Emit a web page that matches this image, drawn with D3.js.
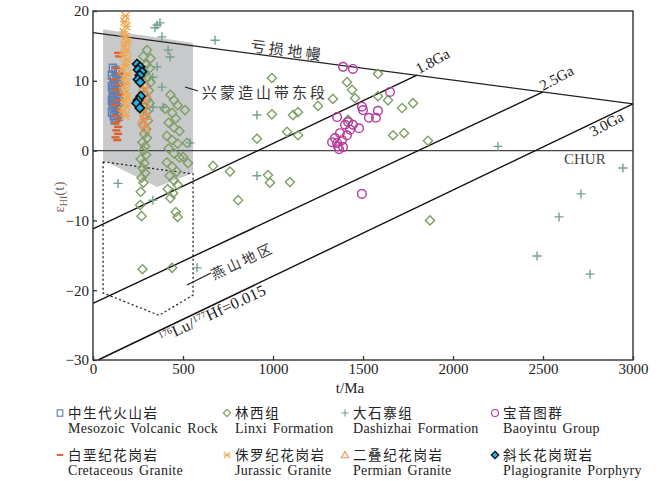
<!DOCTYPE html>
<html>
<head>
<meta charset="utf-8">
<script src="https://cdn.jsdelivr.net/npm/d3@7"></script>
<style>
  html, body { margin: 0; padding: 0; background: #fff; }
  svg { display: block; }
  .serif { font-family: "Liberation Serif", "Times New Roman", serif; }
  .cjk { font-family: "Noto Sans CJK SC", sans-serif; }
</style>
</head>
<body>
<svg id="chart" width="663" height="481"></svg>
<script>
// ---- data: [t (Ma), εHf(t)] ----
const mesozoicVolcanic = [
  [110,11.8],[125,11.5],[140,11.2],[105,10.8],[130,10.5],[115,10.2],[145,9.8],[120,9.5],
  [105,9.2],[135,9.0],[125,8.6],[110,8.3],[140,8.0],[118,7.8],[130,7.5],[105,7.2],
  [145,7.0],[120,6.7],[110,6.4],[135,6.1],[125,5.8],[105,5.5],[140,5.2],[115,5.0],
  [130,4.7],[120,4.4],[110,8.8],[135,10.0],[112,7.0],[128,6.3]
];
const linxi = [
  [300,14.4],[280,13.5],[320,13.2],[295,12.3],[315,11.8],[285,11.0],[305,10.5],[320,9.8],
  [290,9.3],[310,8.6],[280,8.0],[300,7.3],[315,6.8],[285,6.2],[300,5.6],[290,4.9],
  [305,4.3],[280,3.7],[295,3.1],[285,2.4],[300,1.8],[275,1.2],[290,0.6],[280,0.0],
  [295,-0.6],[265,-1.2],[285,-1.8],[275,-2.5],[290,-3.2],[270,-3.9],[280,-4.6],[265,-5.9],
  [262,-7.8],[270,-9.4],[275,-17.0],
  [430,8.0],[450,7.2],[470,6.5],[400,6.0],[440,5.4],[460,4.6],[420,4.0],[450,3.3],
  [480,2.8],[410,2.1],[440,1.5],[470,1.0],[420,0.3],[450,-0.4],[480,-1.0],[410,-1.7],
  [440,-2.3],[465,-3.0],[425,-3.6],[450,-4.3],[470,-4.9],[415,-5.5],[445,-6.1],[430,-6.8],
  [460,-8.8],[470,-9.5],[440,-16.8],
  [511,5.8],[522,1.1],[500,-0.9],[528,-1.8],[667,-2.2],[761,-3.0],[806,-7.1],[911,1.7],
  [972,-3.5],[983,-4.6],[994,10.4],[994,5.2],[1078,2.7],[1094,-4.5],[1111,5.1],[1139,5.5],
  [1139,2.2],[1250,6.4],[1333,7.4],[1411,9.8],[1439,8.7],[1456,7.5],[1417,4.4],[1583,11.0],
  [1583,7.8],[1639,7.2],[1717,6.1],[1778,6.8],[1667,2.2],[1728,2.5],[1861,1.4],[1872,-10.0]
];
const dashizhai = [
  [356,18.0],[372,18.3],[344,17.6],[383,16.3],[417,14.4],[428,13.4],[356,12.0],[333,10.5],
  [383,9.1],[333,6.2],[389,6.2],[678,15.8],[139,-4.7],[333,-7.1],[539,1.1],[911,5.1],
  [911,-3.6],[578,-16.8],[2250,0.6],[2944,-2.5],[2711,-6.2],[2589,-9.5],[2467,-15.1],[2761,-17.7]
];
const baoyintu = [
  [1389,12.0],[1444,11.7],[1650,8.4],[1494,6.3],[1500,5.8],[1583,5.7],[1533,4.7],[1572,4.7],
  [1356,4.8],[1417,4.1],[1444,3.7],[1478,3.2],[1428,3.0],[1400,3.7],[1372,2.5],[1344,1.8],
  [1328,1.2],[1356,1.1],[1383,1.5],[1389,0.5],[1361,0.6],[1494,-6.2],[1411,2.2],[1367,0.2]
];
const cretaceousGranite = [
  [140,14.0],[145,13.5],[130,11.8],[150,11.0],[120,10.2],[145,9.5],[125,8.7],[150,8.0],
  [135,7.2],[120,6.5],[150,5.8],[130,5.0],[145,4.4],[125,3.9],[140,3.4],[130,2.9],
  [140,2.4],[125,1.9],[135,1.5]
];
const jurassicGranite = [
  [180,19.3],[175,18.5],[185,17.8],[170,17.0],[180,16.3],[190,15.6],[175,15.0],[185,14.3],
  [170,13.6],[190,13.0],[180,12.3],[165,11.6],[190,11.0],[175,10.3],[185,9.6],[170,9.0],
  [180,8.3],[190,7.6],[175,7.0],[185,6.3],[165,5.7],[180,5.0]
];
const permianGranite = [
  [285,9.5],[275,8.8],[295,8.2],[280,7.5],[290,6.8],[270,6.2],[285,5.6],[295,5.0],
  [275,4.4],[285,3.8],[290,3.2]
];
const plagiograniteP = [
  [245,12.4],[262,12.0],[250,11.6],[272,11.3],[260,10.8],[250,10.2],[262,9.8],
  [265,7.8],[250,7.2],[242,6.8],[260,6.1]
];

// reference curves
const depletedMantle = [[0,16.9],[3000,6.7]];
const chur = [[0,0],[3000,0]];
const crustLines = [
  { label: "1.8Ga", pts: [[0,-11.2],[1800,10.8]] },
  { label: "2.5Ga", pts: [[0,-21.9],[2500,8.4]] },
  { label: "3.0Ga", pts: [[28,-30],[3000,6.7]] }
];
// field outlines
const xingmengField = [[56,17.4],[556,15.4],[556,-3.2],[356,-5.2],[56,-1.35]];
const yanshanField = [[56,-1.6],[556,-3.35],[556,-20.7],[367,-23.6],[56,-20.4]];

const xTicks = [0,500,1000,1500,2000,2500,3000];
const yTicks = [-30,-20,-10,0,10,20];

// ---- scales ----
const x = d3.scaleLinear().domain([0,3000]).range([93,633]);
const y = d3.scaleLinear().domain([-30,20]).range([360,11]);

const svg = d3.select("#chart");
const line = d3.line().x(d => x(d[0])).y(d => y(d[1]));

// grey field: eastern Xing'an–Mongolia orogenic belt
svg.append("path").attr("d", line(xingmengField) + "Z")
  .attr("fill", "#c8c9cb").attr("stroke", "none");

// dotted field: Yanshan region
svg.append("path").attr("d", line(yanshanField) + "Z")
  .attr("fill", "none").attr("stroke", "#222").attr("stroke-width", 1.3)
  .attr("stroke-dasharray", "2,2.5");

// reference lines
svg.append("path").attr("d", line(depletedMantle)).attr("stroke", "#222").attr("stroke-width", 1.4).attr("fill", "none");
svg.append("path").attr("d", line(chur)).attr("stroke", "#444").attr("stroke-width", 1.4).attr("fill", "none");
crustLines.forEach(c => {
  svg.append("path").attr("d", line(c.pts)).attr("stroke", "#111").attr("stroke-width", 1.4).attr("fill", "none");
});

// frame
svg.append("rect").attr("x", x(0)).attr("y", y(20)).attr("width", x(3000)-x(0)).attr("height", y(-30)-y(20))
  .attr("fill", "none").attr("stroke", "#333").attr("stroke-width", 1.4);

// axes
const xAxis = svg.append("g").attr("transform", `translate(0,${y(-30)})`)
  .call(d3.axisBottom(x).tickValues(xTicks).tickSize(-4).tickPadding(3).tickFormat(d3.format("d")));
const yAxis = svg.append("g").attr("transform", `translate(${x(0)},0)`)
  .call(d3.axisLeft(y).tickValues(yTicks).tickSize(-4).tickPadding(4).tickFormat(d3.format("d")));
[xAxis, yAxis].forEach(g => {
  g.select(".domain").remove();
  g.selectAll(".tick line").attr("stroke", "#333").attr("stroke-width", 1.3);
  g.selectAll(".tick text").attr("class", "serif").attr("font-size", 15).attr("fill", "#222");
});

// axis titles
svg.append("text").attr("class", "serif").attr("x", 350).attr("y", 393)
  .attr("text-anchor", "middle").attr("font-size", 15).attr("fill", "#222").text("t/Ma");
const yt = svg.append("text").attr("class", "serif").attr("transform", "translate(64,197) rotate(-90)")
  .attr("text-anchor", "middle").attr("font-size", 15).attr("fill", "#7a625c");
yt.append("tspan").text("ε");
yt.append("tspan").attr("font-size", 10).attr("dy", 3).text("Hf");
yt.append("tspan").attr("dy", -3).text("(t)");

// ---- symbols ----
const sym = {
  square: (g, c) => g.append("rect").attr("x", -3.5).attr("y", -4).attr("width", 7).attr("height", 8)
    .attr("fill", "none").attr("stroke", c.color).attr("stroke-width", 1.4),
  diamond: (g, c) => g.append("path").attr("d", "M0,-4.6L4.6,0L0,4.6L-4.6,0Z")
    .attr("fill", c.fill || "none").attr("stroke", c.color).attr("stroke-width", c.sw || 1.4),
  plus: (g, c) => g.append("path").attr("d", "M-4.5,0H4.5M0,-4.5V4.5")
    .attr("stroke", c.color).attr("stroke-width", 1.4),
  circle: (g, c) => g.append("circle").attr("r", 4.3)
    .attr("fill", "none").attr("stroke", c.color).attr("stroke-width", 1.4),
  dash: (g, c) => g.append("path").attr("d", "M-4,0H4")
    .attr("stroke", c.color).attr("stroke-width", 2.4),
  asterisk: (g, c) => g.append("path").attr("d", "M-4,-4L4,4M-4,4L4,-4M-4.5,0H4.5")
    .attr("stroke", c.color).attr("stroke-width", 1.4),
  triangle: (g, c) => g.append("path").attr("d", "M0,-4.5L4.5,3.5H-4.5Z")
    .attr("fill", "none").attr("stroke", c.color).attr("stroke-width", 1.4)
};

const series = [
  { data: linxi, shape: "diamond", color: "#7f9f62" },
  { data: dashizhai, shape: "plus", color: "#72a08a" },
  { data: baoyintu, shape: "circle", color: "#b4389e" },
  { data: mesozoicVolcanic, shape: "square", color: "#5d7fb6" },
  { data: cretaceousGranite, shape: "dash", color: "#e0602c" },
  { data: jurassicGranite, shape: "asterisk", color: "#f1a84c" },
  { data: permianGranite, shape: "triangle", color: "#ec935a" },
  { data: plagiograniteP, shape: "diamond", color: "#111", fill: "#1cb3ea", sw: 1.6 }
];
series.forEach(s => {
  svg.append("g").selectAll("g").data(s.data).join("g")
    .attr("transform", d => `translate(${x(d[0])},${y(d[1])})`)
    .each(function() { sym[s.shape](d3.select(this), s); });
});

// ---- in-plot labels ----
const dmAngle = Math.atan2(y(depletedMantle[1][1]) - y(depletedMantle[0][1]), x(3000) - x(0)) * 180 / Math.PI;
svg.append("text").attr("class", "cjk").attr("font-size", 15).attr("letter-spacing", 3.5).attr("fill", "#333")
  .attr("transform", `translate(250,51) rotate(${dmAngle})`).text("亏损地幔");

svg.append("line").attr("x1", 185).attr("y1", 87).attr("x2", 198).attr("y2", 91).attr("stroke", "#222").attr("stroke-width", 1.3);
svg.append("text").attr("class", "cjk").attr("x", 202).attr("y", 98).attr("font-size", 15)
  .attr("letter-spacing", 3).attr("fill", "#333").text("兴蒙造山带东段");

svg.append("line").attr("x1", 187).attr("y1", 285).attr("x2", 211).attr("y2", 273).attr("stroke", "#222").attr("stroke-width", 1.3);
svg.append("text").attr("class", "cjk").attr("font-size", 14).attr("letter-spacing", 3).attr("fill", "#333")
  .attr("transform", "translate(214,280) rotate(-25)").text("燕山地区");

const lu = svg.append("text").attr("class", "serif").attr("font-size", 16).attr("letter-spacing", 0.3).attr("fill", "#222")
  .attr("transform", "translate(162,343) rotate(-25)");
lu.append("tspan").attr("font-size", 9).attr("dy", -5).text("176");
lu.append("tspan").attr("dy", 5).text("Lu/");
lu.append("tspan").attr("font-size", 9).attr("dy", -5).text("177");
lu.append("tspan").attr("dy", 5).text("Hf=0.015");

const gaPos = { "1.8Ga": [419, 74], "2.5Ga": [543, 91], "3.0Ga": [593, 137] };
crustLines.forEach(c => {
  const p = gaPos[c.label];
  svg.append("text").attr("class", "serif").attr("font-size", 15).attr("fill", "#222")
    .attr("transform", `translate(${p[0]},${p[1]}) rotate(-28)`).text(c.label);
});
svg.append("text").attr("class", "serif").attr("x", 564).attr("y", 164).attr("font-size", 15)
  .attr("fill", "#444").text("CHUR");

// ---- legend ----
const legendItems = [
  { zh: "中生代火山岩", en: "Mesozoic Volcanic Rock", shape: "square", color: "#5d7fb6", col: 0, row: 0 },
  { zh: "林西组", en: "Linxi Formation", shape: "diamond", color: "#7f9f62", col: 1, row: 0 },
  { zh: "大石寨组", en: "Dashizhai Formation", shape: "plus", color: "#72a08a", col: 2, row: 0 },
  { zh: "宝音图群", en: "Baoyintu Group", shape: "circle", color: "#b4389e", col: 3, row: 0 },
  { zh: "白垩纪花岗岩", en: "Cretaceous Granite", shape: "dash", color: "#e0602c", col: 0, row: 1 },
  { zh: "侏罗纪花岗岩", en: "Jurassic Granite", shape: "asterisk", color: "#f1a84c", col: 1, row: 1 },
  { zh: "二叠纪花岗岩", en: "Permian Granite", shape: "triangle", color: "#ec935a", col: 2, row: 1 },
  { zh: "斜长花岗斑岩", en: "Plagiogranite Porphyry", shape: "diamond", color: "#111", fill: "#1cb3ea", sw: 1.6, col: 3, row: 1 }
];
const colX = [68, 235, 353, 503];
const rowY = [418, 460];
legendItems.forEach(it => {
  const tx = colX[it.col], ty = rowY[it.row];
  const g = svg.append("g").attr("transform", `translate(${tx - 8},${ty - 5}) scale(0.8)`);
  sym[it.shape](g, it);
  svg.append("text").attr("class", "cjk").attr("x", tx).attr("y", ty).attr("font-size", 13.5)
    .attr("letter-spacing", 1.6).attr("fill", "#222").text(it.zh);
  svg.append("text").attr("class", "serif").attr("x", tx).attr("y", ty + 15).attr("font-size", 14)
    .attr("letter-spacing", 0.3).attr("word-spacing", 2).attr("fill", "#222").text(it.en);
});
</script>
</body>
</html>
